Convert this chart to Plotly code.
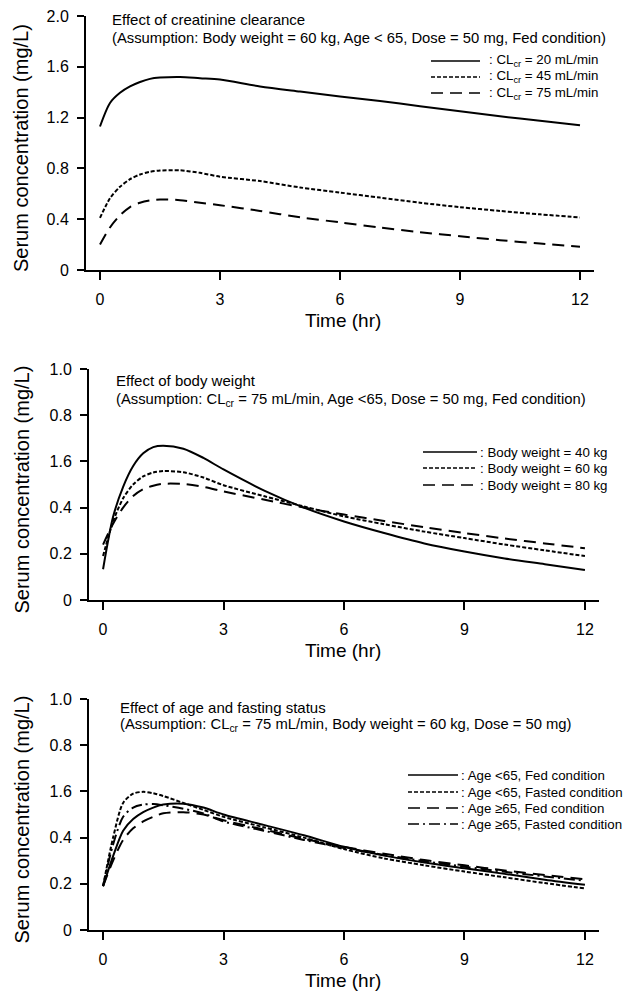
import plotly.graph_objects as go

# ---------------- data ----------------
time_hr = [0, 0.25, 0.5, 0.75, 1, 1.25, 1.5, 2, 2.5, 3, 4, 5, 6, 7, 8, 9, 10, 11, 12]

# Panel 1: effect of creatinine clearance
clcr20 = [1.13, 1.315, 1.395, 1.445, 1.48, 1.505, 1.515, 1.52, 1.51, 1.50, 1.445, 1.405, 1.367, 1.33, 1.29, 1.25, 1.21, 1.175, 1.14]
clcr45 = [0.41, 0.565, 0.655, 0.715, 0.752, 0.773, 0.783, 0.785, 0.765, 0.735, 0.70, 0.65, 0.61, 0.57, 0.53, 0.495, 0.465, 0.438, 0.414]
clcr75 = [0.20, 0.335, 0.43, 0.495, 0.53, 0.548, 0.555, 0.55, 0.53, 0.51, 0.465, 0.415, 0.375, 0.335, 0.298, 0.266, 0.235, 0.208, 0.183]

# Panel 2: effect of body weight
bw40 = [0.133, 0.36, 0.49, 0.58, 0.635, 0.662, 0.668, 0.655, 0.615, 0.565, 0.475, 0.40, 0.34, 0.29, 0.245, 0.21, 0.18, 0.155, 0.13]
bw60 = [0.19, 0.34, 0.44, 0.50, 0.535, 0.552, 0.558, 0.553, 0.53, 0.497, 0.45, 0.405, 0.362, 0.328, 0.296, 0.268, 0.24, 0.215, 0.19]
bw80 = [0.24, 0.33, 0.40, 0.45, 0.48, 0.495, 0.503, 0.502, 0.49, 0.47, 0.435, 0.40, 0.37, 0.342, 0.315, 0.29, 0.266, 0.245, 0.224]

# Panel 3: effect of age and fasting status
young_fed = [0.19, 0.32, 0.43, 0.48, 0.51, 0.53, 0.543, 0.547, 0.53, 0.50, 0.455, 0.41, 0.36, 0.322, 0.292, 0.267, 0.243, 0.218, 0.196]
young_fasted = [0.19, 0.40, 0.55, 0.59, 0.598, 0.592, 0.58, 0.55, 0.52, 0.49, 0.445, 0.40, 0.35, 0.31, 0.28, 0.253, 0.228, 0.203, 0.18]
old_fed = [0.19, 0.30, 0.39, 0.44, 0.47, 0.49, 0.505, 0.51, 0.50, 0.475, 0.435, 0.395, 0.36, 0.33, 0.303, 0.28, 0.258, 0.238, 0.22]
old_fasted = [0.19, 0.37, 0.49, 0.53, 0.543, 0.545, 0.54, 0.525, 0.505, 0.47, 0.43, 0.39, 0.355, 0.325, 0.298, 0.274, 0.252, 0.232, 0.213]

x_ticks = [0, 3, 6, 9, 12]
y1_ticks = [0, 0.4, 0.8, 1.2, 1.6, 2.0]
y1_labels = ["0", "0.4", "0.8", "1.2", "1.6", "2.0"]
y23_ticks = [0, 0.2, 0.4, 0.6, 0.8, 1.0]
y23_labels = ["0", "0.2", "0.4", "1.6", "0.8", "1.0"]

panel_titles = [
    ("Effect of creatinine clearance",
     "(Assumption: Body weight = 60 kg, Age < 65, Dose = 50 mg, Fed condition)"),
    ("Effect of body weight",
     "(Assumption: CL<sub>cr</sub> = 75 mL/min, Age <65, Dose = 50 mg, Fed condition)"),
    ("Effect of age and fasting status",
     "(Assumption: CL<sub>cr</sub> = 75 mL/min, Body weight = 60 kg, Dose = 50 mg)"),
]

legend1 = [": CL<sub>cr</sub> = 20 mL/min", ": CL<sub>cr</sub> = 45 mL/min", ": CL<sub>cr</sub> = 75 mL/min"]
legend2 = [": Body weight = 40 kg", ": Body weight = 60 kg", ": Body weight = 80 kg"]
legend3 = [": Age <65, Fed condition", ": Age <65, Fasted condition",
           ": Age \u226565, Fed condition", ": Age \u226565, Fasted condition"]

# ---------------- styling ----------------
W, H = 628, 996
FONT = "Liberation Sans, Arial, sans-serif"
SOLID = "solid"
SHORT = "4px,2px"
LONG = "12px,7px"
DASHDOT = "11px,4px,2px,4px"
LW = 2


def px(x):
    return x / W


def py(y):
    return 1 - y / H


fig = go.Figure()

panels = [
    dict(series=[clcr20, clcr45, clcr75], dashes=[SOLID, SHORT, LONG], labels=legend1,
         xpix=(86, 594), ypix=(16, 270), yrange=[0, 2.0], yt=y1_ticks, ytl=y1_labels,
         title_pos=(110, 19, 38), leg=dict(x0=431, x1=480, tx=487, rows=[61, 77, 93])),
    dict(series=[bw40, bw60, bw80], dashes=[SOLID, SHORT, LONG], labels=legend2,
         xpix=(89, 599), ypix=(369, 600), yrange=[0, 1.0], yt=y23_ticks, ytl=y23_labels,
         title_pos=(114, 380, 400), leg=dict(x0=423, x1=477, tx=478, rows=[452, 468, 485])),
    dict(series=[young_fed, young_fasted, old_fed, old_fasted], dashes=[SOLID, SHORT, LONG, DASHDOT],
         labels=legend3,
         xpix=(89, 599), ypix=(699, 930), yrange=[0, 1.0], yt=y23_ticks, ytl=y23_labels,
         title_pos=(118, 707, 725), leg=dict(x0=408, x1=458, tx=459, rows=[775, 792, 808, 824])),
]

annotations = []
shapes = []
for i, p in enumerate(panels, start=1):
    xa = "x" if i == 1 else f"x{i}"
    ya = "y" if i == 1 else f"y{i}"
    for s, d in zip(p["series"], p["dashes"]):
        fig.add_trace(go.Scatter(x=time_hr, y=s, mode="lines", xaxis=xa, yaxis=ya,
                                 line=dict(color="black", width=LW, dash=d, shape="spline", smoothing=0.8),
                                 showlegend=False, hoverinfo="skip"))
    xkey = "xaxis" if i == 1 else f"xaxis{i}"
    ykey = "yaxis" if i == 1 else f"yaxis{i}"
    fig.layout[xkey] = dict(domain=[px(p["xpix"][0]), px(p["xpix"][1])], range=[-0.35, 12.35],
                            anchor=ya, tickvals=x_ticks, ticks="outside", ticklen=8, tickwidth=2,
                            tickcolor="black", showline=True, linecolor="black", linewidth=2,
                            showgrid=False, zeroline=False, ticklabelstandoff=6, automargin=False,
                            tickfont=dict(family=FONT, size=16, color="black"))
    fig.layout[ykey] = dict(domain=[py(p["ypix"][1]), py(p["ypix"][0])], range=p["yrange"],
                            anchor=xa, tickvals=p["yt"], ticktext=p["ytl"], ticks="outside",
                            ticklen=7, tickwidth=2, tickcolor="black", showline=True,
                            linecolor="black", linewidth=2, showgrid=False, zeroline=False,
                            ticklabelstandoff=5, automargin=False,
                            tickfont=dict(family=FONT, size=16, color="black"))
    # axis titles
    ymid = (p["ypix"][0] + p["ypix"][1]) / 2 + 5
    annotations.append(dict(text="Serum concentration (mg/L)", x=px(21), y=py(ymid), xref="paper",
                            yref="paper", showarrow=False, textangle=-90, xanchor="center",
                            yanchor="middle", font=dict(family=FONT, size=20, color="black")))
    annotations.append(dict(text="Time (hr)", x=px(343), y=py(p["ypix"][1] + 50), xref="paper",
                            yref="paper", showarrow=False, xanchor="center", yanchor="middle",
                            font=dict(family=FONT, size=19, color="black")))
    # panel titles
    tx, ty1, ty2 = p["title_pos"]
    t1, t2 = panel_titles[i - 1]
    annotations.append(dict(text=t1, x=px(tx), y=py(ty1), xref="paper", yref="paper", showarrow=False,
                            xanchor="left", yanchor="middle", font=dict(family=FONT, size=15, color="black")))
    annotations.append(dict(text=t2, x=px(tx), y=py(ty2), xref="paper", yref="paper", showarrow=False,
                            xanchor="left", yanchor="middle", font=dict(family=FONT, size=14.8, color="black")))
    # legend keys
    lg = p["leg"]
    for row, lab, d in zip(lg["rows"], p["labels"], p["dashes"]):
        shapes.append(dict(type="line", xref="paper", yref="paper", x0=px(lg["x0"]), x1=px(lg["x1"]),
                           y0=py(row), y1=py(row), line=dict(color="black", width=1.5, dash=d)))
        annotations.append(dict(text=lab, x=px(lg["tx"]), y=py(row), xref="paper", yref="paper",
                                showarrow=False, xanchor="left", yanchor="middle",
                                font=dict(family=FONT, size=13.3, color="black")))

fig.update_layout(template="none", width=W, height=H,
                  margin=dict(l=0, r=0, t=0, b=0, pad=0, autoexpand=False),
                  paper_bgcolor="white", plot_bgcolor="white", showlegend=False,
                  annotations=annotations, shapes=shapes)

fig.write_html("out.html", config={"displayModeBar": False},
               post_script="document.documentElement.style.margin='0';"
                           "document.body.style.margin='0';document.body.style.overflow='hidden';")
